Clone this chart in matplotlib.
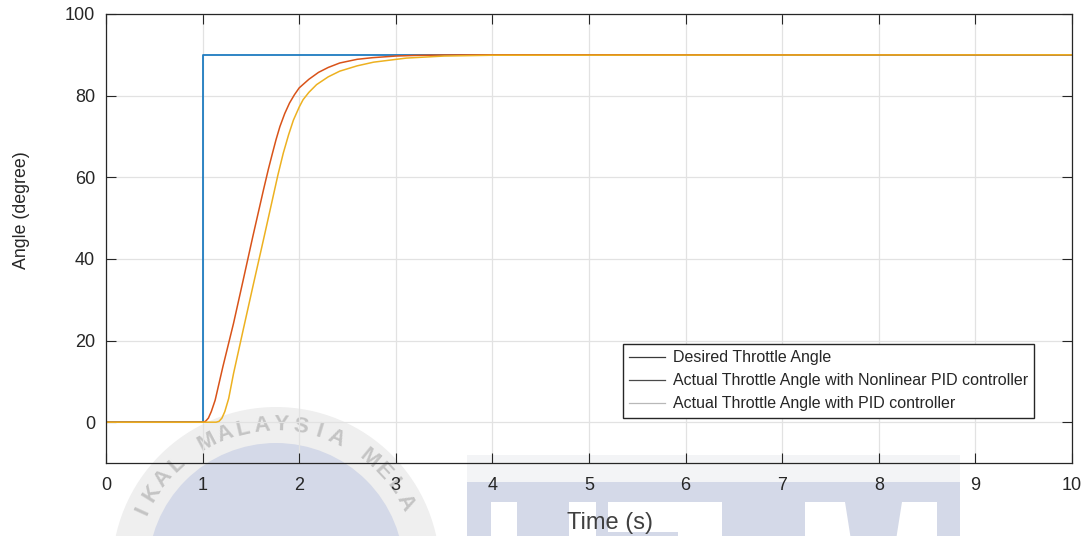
import numpy as np
import matplotlib
matplotlib.use("Agg")
import matplotlib.pyplot as plt
from matplotlib.patches import Circle, Rectangle, Polygon
from matplotlib.lines import Line2D

plt.rcParams['font.family'] = ['Liberation Sans', 'DejaVu Sans']

# Step reference
t_desired = [0.0, 1.0, 1.0, 10.0]
desired = [0.0, 0.0, 90.0, 90.0]

# Response with nonlinear PID controller
t_nonlinear = [0.0, 1.0, 1.03, 1.06, 1.09, 1.13, 1.21, 1.32, 1.42, 1.52, 1.63,
               1.68, 1.72, 1.76, 1.80, 1.85, 1.90, 1.95, 2.0, 2.1, 2.2, 2.3,
               2.42, 2.6, 2.76, 3.0, 3.2, 3.5, 4.0, 10.0]
nonlinear = [0.0, 0.0, 0.2, 1.0, 2.6, 5.4, 13.6, 24.2, 34.8, 45.5, 56.9,
             61.9, 65.6, 69.2, 72.4, 75.6, 78.2, 80.2, 81.9, 84.0, 85.7, 86.9,
             88.0, 88.9, 89.3, 89.7, 89.85, 89.95, 90.0, 90.0]

# Response with PID controller
t_pid = [0.0, 1.0, 1.14, 1.17, 1.20, 1.23, 1.27, 1.32, 1.42, 1.52, 1.63, 1.73,
         1.78, 1.835, 1.89, 1.94, 2.0, 2.04, 2.1, 2.18, 2.3, 2.42, 2.6, 2.77,
         3.11, 3.5, 4.0, 10.0]
pid = [0.0, 0.0, 0.0, 0.2, 1.0, 2.6, 5.8, 11.9, 22.6, 33.2, 44.7, 55.3, 60.6,
       65.9, 70.4, 74.0, 77.2, 79.0, 80.8, 82.7, 84.6, 86.0, 87.3, 88.2, 89.2,
       89.7, 89.9, 90.0]

labels = ['Desired Throttle Angle',
          'Actual Throttle Angle with Nonlinear PID controller',
          'Actual Throttle Angle with PID controller']
x_ticks = list(range(0, 11))
y_ticks = [0, 20, 40, 60, 80, 100]

W, H = 1088, 536
fig = plt.figure(figsize=(W / 100, H / 100), dpi=100)

# ---- background emblem (pixel coordinates) ----
bg = fig.add_axes([0, 0, 1, 1], zorder=0)
bg.set_xlim(0, W)
bg.set_ylim(H, 0)
bg.axis('off')

cx, cy = 276, 571
bg.add_patch(Circle((cx, cy), 164, color='#efefef', lw=0))
bg.add_patch(Circle((cx, cy), 128, color='#d4d9e8', lw=0))
ring = "UNIVERSITI TEKNIKAL MALAYSIA MELAKA"
start = ring.index("MALAYSIA")
step = 7.5
for i, ch in enumerate(ring):
    ang = -28 + (i - start) * step
    if ch == ' ':
        continue
    a = np.deg2rad(ang)
    px = cx + 146 * np.sin(a)
    py = cy - 146 * np.cos(a)
    if py > 512:
        continue
    bg.text(px, py, ch, rotation=-ang, ha='center', va='center',
            fontsize=16, fontweight='bold', color='#c4c4c4')

bg.add_patch(Rectangle((467, 455), 493, 27, color='#f3f4f6', lw=0))
bg.add_patch(Rectangle((467, 482), 493, 60, color='#d4d9e8', lw=0))
for x0, x1 in [(491, 517), (569, 596)]:
    bg.add_patch(Rectangle((x0, 502), x1 - x0, 40, color='white', lw=0))
bg.add_patch(Rectangle((608, 502), 114, 30, color='white', lw=0))
bg.add_patch(Rectangle((678, 532), 44, 10, color='white', lw=0))
bg.add_patch(Polygon([(805, 502), (845, 502), (851, 540), (805, 540)],
                     closed=True, color='white', lw=0))
bg.add_patch(Polygon([(902, 502), (937, 502), (937, 540), (896, 540)],
                     closed=True, color='white', lw=0))

# ---- main plot ----
ax = fig.add_axes([106 / W, (H - 463) / H, 966 / W, 449 / H], zorder=1)
ax.set_facecolor('none')

ax.plot(t_desired, desired, color='#1f7cc0', lw=1.3)
ax.plot(t_nonlinear, nonlinear, color='#D95319', lw=1.1)
ax.plot(t_pid, pid, color='#EDB120', lw=1.1)

ax.set_xlim(0, 10)
ax.set_ylim(-10, 100)
ax.set_xticks(x_ticks)
ax.set_yticks(y_ticks)
ax.grid(True, color='#e2e2e2', lw=0.9)
ax.set_axisbelow(True)
ax.tick_params(direction='in', length=7, width=0.8, top=True, right=True,
               labelsize=13, colors='#262626')
ax.tick_params(axis='y', pad=8)
ax.tick_params(axis='x', pad=10)
for s in ax.spines.values():
    s.set_color('#262626')
    s.set_linewidth(0.9)

ax.set_xlabel('Time (s)', fontsize=17, color='#404040')
ax.xaxis.set_label_coords(0.522, -0.110)
ax.set_ylabel('Angle (degree)', fontsize=12.8, color='#262626')
ax.yaxis.set_label_coords(-0.079, 0.563)

handles = [Line2D([], [], color='#3a3a3a', lw=0.9),
           Line2D([], [], color='#4a4a4a', lw=0.9),
           Line2D([], [], color='#b8b8b8', lw=0.9)]
leg = ax.legend(handles, labels, loc='upper left',
                bbox_to_anchor=(0.5352, 0.2650), borderaxespad=0,
                fontsize=11.5, frameon=True, fancybox=False, framealpha=1,
                edgecolor='#262626', handlelength=2.2, handletextpad=0.5,
                labelspacing=0.5, borderpad=0.4)
leg.get_frame().set_linewidth(1.0)
for txt in leg.get_texts():
    txt.set_color('#262626')

fig.savefig('out.png', dpi=100)
